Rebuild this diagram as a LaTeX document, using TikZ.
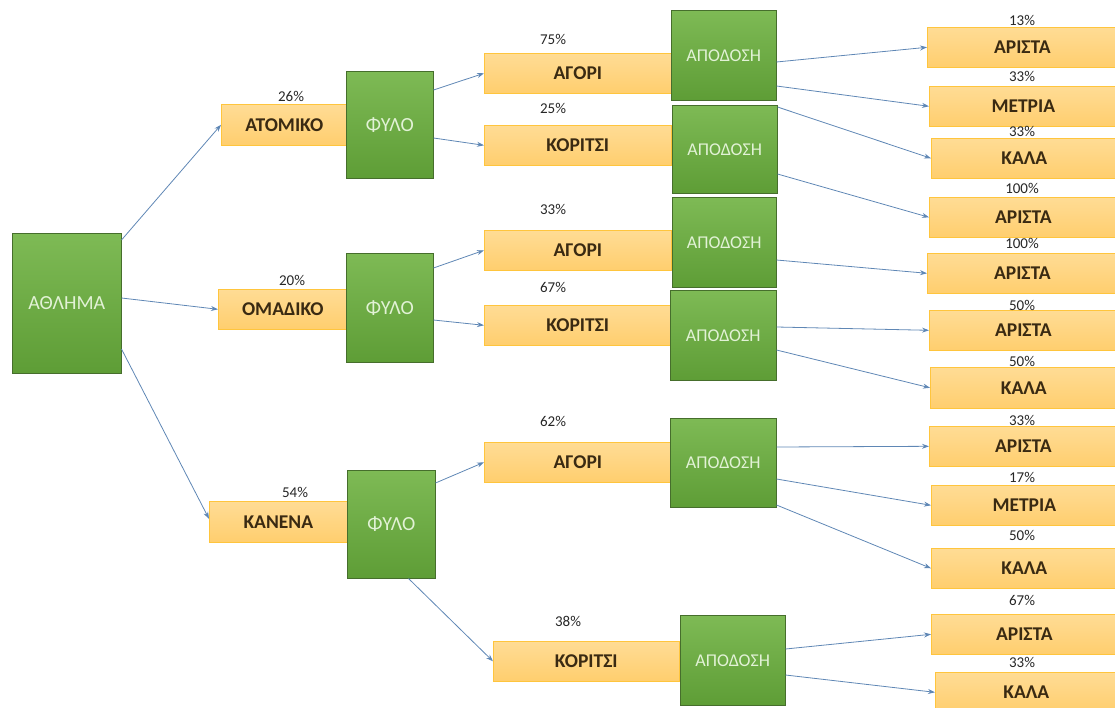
\documentclass[tikz,border=0pt]{standalone}
\usepackage{fontspec}
\setmainfont{Carlito}
\usetikzlibrary{arrows.meta,calc}
\definecolor{gtop}{HTML}{7EBA55}
\definecolor{gbot}{HTML}{5E9D36}
\definecolor{gline}{HTML}{466E2C}
\definecolor{gtext}{HTML}{E2F2D6}
\definecolor{otop}{HTML}{FFDC95}
\definecolor{obot}{HTML}{FFCE6E}
\definecolor{oline}{HTML}{FFC53D}
\definecolor{otext}{HTML}{3A2A12}
\definecolor{arrowc}{HTML}{5F87B5}
\tikzset{
  gbox/.style={rectangle, anchor=north west, inner sep=0pt, top color=gtop, bottom color=gbot,
    draw=gline, line width=0.5pt, text=gtext},
  obox/.style={rectangle, anchor=north west, inner sep=0pt, top color=otop, bottom color=obot,
    draw=oline, line width=0.6pt, text=otext, font=\fontsize{19.5}{22}\selectfont\bfseries},
  pct/.style={inner sep=0pt, text=black!85, font=\fontsize{15}{17}\selectfont},
  conn/.style={draw=arrowc, line width=0.8pt, -{Stealth[length=7pt,width=5pt]}},
}
\begin{document}
\begin{tikzpicture}[x=1pt,y=-1pt]
\useasboundingbox (0,0) rectangle (1115,708);

% first level: sport type
\node[obox, minimum width=126pt, minimum height=41pt] (atom) at (221,104) {ΑΤΟΜΙΚΟ};
\node[obox, minimum width=129pt, minimum height=40pt] (omad) at (218,289) {ΟΜΑΔΙΚΟ};
\node[obox, minimum width=138pt, minimum height=41pt] (kan) at (209,501) {ΚΑΝΕΝΑ};
\node[pct] (p-atom) at (291,96) {26\%};
\node[pct] (p-omad) at (292,280) {20\%};
\node[pct] (p-kan) at (295,492) {54\%};

% second level: gender
\node[obox, minimum width=187pt, minimum height=40pt] (ag1) at (484,53) {ΑΓΟΡΙ};
\node[obox, minimum width=187pt, minimum height=40pt] (ko1) at (484,125) {ΚΟΡΙΤΣΙ};
\node[obox, minimum width=187pt, minimum height=40pt] (ag2) at (484,230) {ΑΓΟΡΙ};
\node[obox, minimum width=187pt, minimum height=40pt] (ko2) at (484,305) {ΚΟΡΙΤΣΙ};
\node[obox, minimum width=187pt, minimum height=40pt] (ag3) at (484,442) {ΑΓΟΡΙ};
\node[obox, minimum width=186pt, minimum height=40pt] (ko3) at (493,641) {ΚΟΡΙΤΣΙ};
\node[pct] (p-ag1) at (553,39) {75\%};
\node[pct] (p-ko1) at (553,108) {25\%};
\node[pct] (p-ag2) at (553,209) {33\%};
\node[pct] (p-ko2) at (553,287) {67\%};
\node[pct] (p-ag3) at (553,421) {62\%};
\node[pct] (p-ko3) at (568,621) {38\%};

% third level: performance
\node[obox, minimum width=190pt, minimum height=40pt] (r1) at (927,27) {ΑΡΙΣΤΑ};
\node[obox, minimum width=188pt, minimum height=40pt] (r2) at (929,86) {ΜΕΤΡΙΑ};
\node[obox, minimum width=186pt, minimum height=40pt] (r3) at (931,138) {ΚΑΛΑ};
\node[obox, minimum width=188pt, minimum height=40pt] (r4) at (929,197) {ΑΡΙΣΤΑ};
\node[obox, minimum width=190pt, minimum height=40pt] (r5) at (927,253) {ΑΡΙΣΤΑ};
\node[obox, minimum width=188pt, minimum height=40pt] (r6) at (929,310) {ΑΡΙΣΤΑ};
\node[obox, minimum width=187pt, minimum height=41pt] (r7) at (930,367) {ΚΑΛΑ};
\node[obox, minimum width=188pt, minimum height=40pt] (r8) at (929,426) {ΑΡΙΣΤΑ};
\node[obox, minimum width=186pt, minimum height=40pt] (r9) at (931,485) {ΜΕΤΡΙΑ};
\node[obox, minimum width=186pt, minimum height=40pt] (r10) at (931,548) {ΚΑΛΑ};
\node[obox, minimum width=186pt, minimum height=40pt] (r11) at (931,614) {ΑΡΙΣΤΑ};
\node[obox, minimum width=182pt, minimum height=40pt] (r12) at (935,672) {ΚΑΛΑ};
\node[pct] (p-r1) at (1022,20) {13\%};
\node[pct] (p-r2) at (1022,76) {33\%};
\node[pct] (p-r3) at (1022,131) {33\%};
\node[pct] (p-r4) at (1022,188) {100\%};
\node[pct] (p-r5) at (1022,243) {100\%};
\node[pct] (p-r6) at (1022,305) {50\%};
\node[pct] (p-r7) at (1022,361) {50\%};
\node[pct] (p-r8) at (1022,420) {33\%};
\node[pct] (p-r9) at (1022,477) {17\%};
\node[pct] (p-r10) at (1022,535) {50\%};
\node[pct] (p-r11) at (1022,600) {67\%};
\node[pct] (p-r12) at (1022,662) {33\%};

% green category boxes
\node[gbox, minimum width=109pt, minimum height=140pt, font=\fontsize{20}{22}\selectfont] (ath) at (12,233) {ΑΘΛΗΜΑ};
\node[gbox, minimum width=87pt, minimum height=107pt, font=\fontsize{20}{22}\selectfont] (fy1) at (346,71) {ΦΥΛΟ};
\node[gbox, minimum width=87pt, minimum height=109pt, font=\fontsize{20}{22}\selectfont] (fy2) at (346,253) {ΦΥΛΟ};
\node[gbox, minimum width=88pt, minimum height=108pt, font=\fontsize{20}{22}\selectfont] (fy3) at (347,470) {ΦΥΛΟ};
\node[gbox, minimum width=105pt, minimum height=90pt, font=\fontsize{18}{20}\selectfont] (ap1) at (671,10) {ΑΠΟΔΟΣΗ};
\node[gbox, minimum width=105pt, minimum height=88pt, font=\fontsize{18}{20}\selectfont] (ap2) at (672,105) {ΑΠΟΔΟΣΗ};
\node[gbox, minimum width=104pt, minimum height=90pt, font=\fontsize{18}{20}\selectfont] (ap3) at (672,197) {ΑΠΟΔΟΣΗ};
\node[gbox, minimum width=106pt, minimum height=90pt, font=\fontsize{18}{20}\selectfont] (ap4) at (670,290) {ΑΠΟΔΟΣΗ};
\node[gbox, minimum width=106pt, minimum height=89pt, font=\fontsize{18}{20}\selectfont] (ap5) at (670,418) {ΑΠΟΔΟΣΗ};
\node[gbox, minimum width=105pt, minimum height=90pt, font=\fontsize{18}{20}\selectfont] (ap6) at (680,615) {ΑΠΟΔΟΣΗ};

% connectors
\draw[conn] ($(ath.north east)+(0,7)$) -- (atom.west);
\draw[conn] ($(ath.north east)+(0,65)$) -- (omad.west);
\draw[conn] ($(ath.north east)+(0,116)$) -- ($(kan.west)+(0,-3)$);

\draw[conn] ($(fy1.north east)+(0,19)$) -- (ag1.west);
\draw[conn] ($(fy1.north east)+(0,67)$) -- (ko1.west);
\draw[conn] ($(fy2.north east)+(0,15)$) -- (ag2.west);
\draw[conn] ($(fy2.north east)+(0,67)$) -- (ko2.west);
\draw[conn] ($(fy3.north east)+(0,13)$) -- (ag3.west);
\draw[conn] ($(fy3.south east)+(-27,0)$) -- (ko3.west);

\draw[conn] ($(ap1.north east)+(0,52)$) -- (r1.west);
\draw[conn] ($(ap1.north east)+(0,76)$) -- (r2.west);
\draw[conn] ($(ap2.north east)+(0,2)$) -- (r3.west);
\draw[conn] ($(ap2.north east)+(0,69)$) -- (r4.west);
\draw[conn] ($(ap3.north east)+(0,63)$) -- (r5.west);
\draw[conn] ($(ap4.north east)+(0,37)$) -- (r6.west);
\draw[conn] ($(ap4.north east)+(0,60)$) -- (r7.west);
\draw[conn] ($(ap5.north east)+(0,29)$) -- (r8.west);
\draw[conn] ($(ap5.north east)+(0,61)$) -- (r9.west);
\draw[conn] ($(ap5.north east)+(0,87)$) -- (r10.west);
\draw[conn] ($(ap6.north east)+(0,34)$) -- (r11.west);
\draw[conn] ($(ap6.north east)+(0,60)$) -- (r12.west);
\end{tikzpicture}
\end{document}
